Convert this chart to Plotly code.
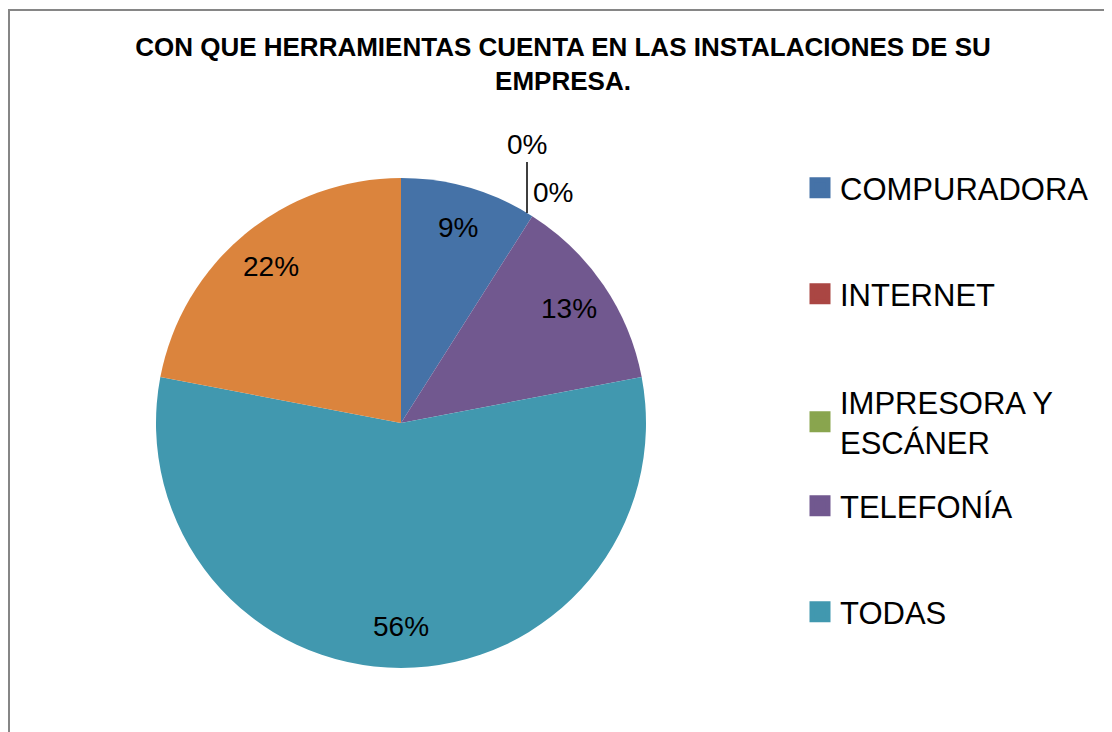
import math
import plotly.graph_objects as go

W, H = 1112, 732

# data
labels = ["COMPURADORA", "INTERNET", "IMPRESORA Y ESCÁNER", "TELEFONÍA", "TODAS", "OTRAS"]
legend_labels = ["COMPURADORA", "INTERNET", "IMPRESORA Y<br>ESCÁNER", "TELEFONÍA", "TODAS"]
values = [9, 0, 0, 13, 56, 22]
colors = ["#4572A7", "#AA4643", "#89A54E", "#71588F", "#4198AF", "#DB843D"]

font_fam = "Liberation Sans, Arial, sans-serif"

# page body has an 8px margin, so shift everything to land where the original has it
OFF = 8

def px(x):
    return (x - OFF) / W

def py(y):
    return 1 - (y - OFF) / H

# pie center (401, 423), radius 245 in pixels
cx, cy, r = 401, 423, 245

fig = go.Figure()
fig.add_trace(go.Pie(
    labels=labels,
    values=values,
    sort=False,
    direction="clockwise",
    rotation=0,
    marker=dict(colors=colors, line=dict(width=0)),
    textinfo="none",
    showlegend=False,
    domain=dict(x=[px(cx - r), px(cx + r)], y=[py(cy + r), py(cy - r)]),
    hoverinfo="label+percent",
))

# slice labels, Excel style at ~83% of the radius on each slice's mid angle
total = sum(values)
cum = 0
for v in values:
    mid = (cum + v / 2) / total * 2 * math.pi
    cum += v
    if v == 0:
        continue
    lx = cx + 0.83 * r * math.sin(mid)
    ly = cy - 0.83 * r * math.cos(mid)
    fig.add_annotation(x=px(lx), y=py(ly), xref="paper", yref="paper",
                       xanchor="center", yanchor="middle",
                       text=f"{v}%", showarrow=False,
                       font=dict(family=font_fam, size=28, color="black"))

# the two 0% labels of the empty slices
zero_txt = [f"{v}%" for v in values[1:3]]
fig.add_annotation(x=px(527), y=py(213), xref="paper", yref="paper",
                   text=zero_txt[0], showarrow=True, arrowhead=0, arrowwidth=1.5,
                   arrowcolor="black", ax=0, ay=-68,
                   font=dict(family=font_fam, size=28, color="black"))
fig.add_annotation(x=px(553), y=py(192), xref="paper", yref="paper",
                   xanchor="center", yanchor="middle",
                   text=zero_txt[1], showarrow=False,
                   font=dict(family=font_fam, size=28, color="black"))

# legend entries (one legend each so spacing matches the original)
leg_y = [188, 294, 375, 506, 612]
for i, name in enumerate(legend_labels):
    key = "legend" if i == 0 else f"legend{i + 1}"
    fig.add_trace(go.Scatter(
        x=[None], y=[None], mode="markers", name=name,
        marker=dict(symbol="square", size=16, color=colors[i],
                    line=dict(width=5, color=colors[i])),
        legend=key,
    ))

legend_common = dict(font=dict(family=font_fam, size=31, color="black"),
                      bgcolor="rgba(0,0,0,0)", xanchor="left", x=px(800),
                      itemclick=False, itemdoubleclick=False)
for i, y in enumerate(leg_y):
    key = "legend" if i == 0 else f"legend{i + 1}"
    anchor = "top" if i == 2 else "middle"
    fig.update_layout({key: dict(legend_common, y=py(y), yanchor=anchor)})

# outer chart border
fig.add_shape(type="rect", xref="paper", yref="paper",
              x0=px(9), x1=px(W + 40), y0=py(10), y1=py(H + 40),
              line=dict(color="#868686", width=2))

fig.update_layout(
    width=W, height=H,
    margin=dict(l=0, r=0, t=0, b=0, autoexpand=False),
    paper_bgcolor="white", plot_bgcolor="white",
    title=dict(text="<b>CON QUE HERRAMIENTAS CUENTA EN LAS INSTALACIONES DE SU<br>EMPRESA.</b>",
               x=px(563), xanchor="center", y=py(56), yanchor="top",
               font=dict(family=font_fam, size=26, color="black")),
    xaxis=dict(visible=False), yaxis=dict(visible=False),
)

fig.write_html("out.html")
